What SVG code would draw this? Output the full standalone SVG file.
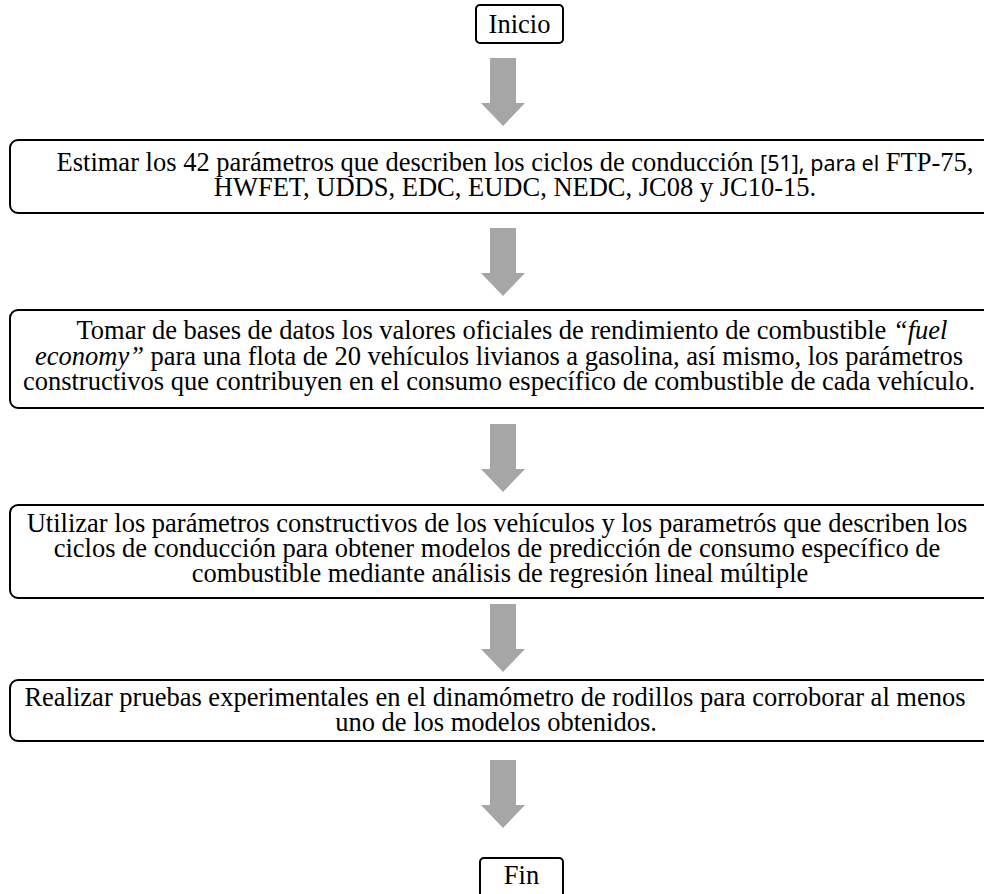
<svg xmlns="http://www.w3.org/2000/svg" width="984" height="894" viewBox="0 0 984 894">
<style>
.box{fill:#fff;stroke:#000;stroke-width:2}
.t{font-family:"Liberation Serif","Times New Roman","DejaVu Serif",serif;font-size:26.5px;fill:#000;text-anchor:middle}
.s{font-family:"Noto Sans","Liberation Sans",sans-serif;font-size:21.5px}
.arr{fill:#a6a6a6}
</style>
<defs>
<path id="ar" d="M-13,0 H13 V45 H22 L0,68 L-22,45 H-13 Z"/>
</defs>
<rect width="984" height="894" fill="#fff"/>
<g id="connectors">
<use href="#ar" class="arr" x="503" y="58"/>
<use href="#ar" class="arr" x="503" y="228"/>
<use href="#ar" class="arr" x="503" y="424"/>
<use href="#ar" class="arr" x="503" y="604"/>
<use href="#ar" class="arr" x="503" y="760"/>
</g>
<g id="inicio">
<rect class="box" x="476" y="5" width="87" height="38" rx="4"/>
<text class="t" x="519.5" y="33">Inicio</text>
</g>
<g id="paso1">
<rect class="box" x="10" y="140" width="1000" height="73" rx="8"/>
<text class="t" x="515" y="171">Estimar los 42 parámetros que describen los ciclos de conducción <tspan class="s">[51], para el</tspan> FTP-75,</text>
<text class="t" x="515" y="196">HWFET, UDDS, EDC, EUDC, NEDC, JC08 y JC10-15.</text>
</g>
<g id="paso2">
<rect class="box" x="10" y="310" width="1000" height="98" rx="8"/>
<text class="t" x="512" y="339">Tomar de bases de datos los valores oficiales de rendimiento de combustible <tspan font-style="italic">“fuel</tspan></text>
<text class="t" x="499" y="364.5"><tspan font-style="italic">economy”</tspan> para una flota de 20 vehículos livianos a gasolina, así mismo, los parámetros</text>
<text class="t" x="499" y="390">constructivos que contribuyen en el consumo específico de combustible de cada vehículo.</text>
</g>
<g id="paso3">
<rect class="box" x="10" y="505" width="1000" height="93" rx="8"/>
<text class="t" x="497" y="532">Utilizar los parámetros constructivos de los vehículos y los parametrós que describen los</text>
<text class="t" x="497" y="557">ciclos de conducción para obtener modelos de predicción de consumo específico de</text>
<text class="t" x="500" y="582">combustible mediante análisis de regresión lineal múltiple</text>
</g>
<g id="paso4">
<rect class="box" x="10" y="680" width="1000" height="61" rx="8"/>
<text class="t" x="495" y="706">Realizar pruebas experimentales en el dinamómetro de rodillos para corroborar al menos</text>
<text class="t" x="496" y="731">uno de los modelos obtenidos.</text>
</g>
<g id="fin">
<rect class="box" x="480" y="858" width="83" height="40" rx="4"/>
<text class="t" x="521.5" y="884">Fin</text>
</g>
</svg>
